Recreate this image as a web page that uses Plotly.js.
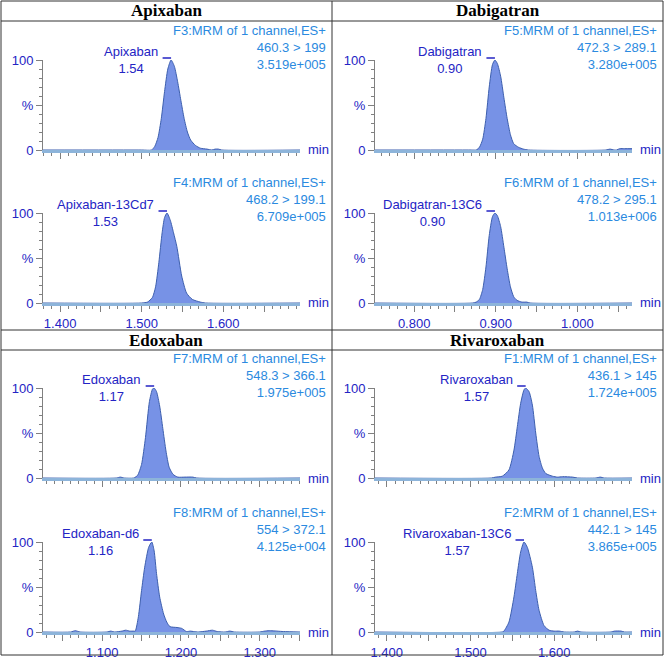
<!DOCTYPE html>
<html>
<head>
<meta charset="utf-8">
<script src="https://cdn.plot.ly/plotly-3.0.1.min.js"></script>
<style>
  html, body { margin: 0; padding: 0; background: #fff; }
  #chart { width: 665px; height: 659px; }
</style>
</head>
<body>
<div id="chart"></div>
<script>
// Chart data
const HEADERS = ['Apixaban', 'Dabigatran', 'Edoxaban', 'Rivaroxaban'];

const PEAK_NAMES = ['Apixaban', 'Apixaban-13Cd7', 'Dabigatran', 'Dabigatran-13C6',
                    'Edoxaban', 'Edoxaban-d6', 'Rivaroxaban', 'Rivaroxaban-13C6'];
const PEAK_RT = ['1.54', '1.53', '0.90', '0.90', '1.17', '1.16', '1.57', '1.57'];
const FUNCTIONS = ['F3:MRM of 1 channel,ES+', 'F4:MRM of 1 channel,ES+',
                   'F5:MRM of 1 channel,ES+', 'F6:MRM of 1 channel,ES+',
                   'F7:MRM of 1 channel,ES+', 'F8:MRM of 1 channel,ES+',
                   'F1:MRM of 1 channel,ES+', 'F2:MRM of 1 channel,ES+'];
const TRANSITIONS = ['460.3 > 199', '468.2 > 199.1', '472.3 > 289.1', '478.2 > 295.1',
                     '548.3 > 366.1', '554 > 372.1', '436.1 > 145', '442.1 > 145'];
const INTENSITIES = ['3.519e+005', '6.709e+005', '3.280e+005', '1.013e+006',
                     '1.975e+005', '4.125e+004', '1.724e+005', '3.865e+005'];

// x ranges (min) per compound
const X_RANGES = [[1.379, 1.694], [0.752, 1.067], [1.025, 1.351], [1.386, 1.693]];
const X_TICKS = [
    [1.40, 1.45, 1.50, 1.55, 1.60, 1.65],
    [0.80, 0.85, 0.90, 0.95, 1.00, 1.05],
    [1.05, 1.10, 1.15, 1.20, 1.25, 1.30, 1.35],
    [1.40, 1.45, 1.50, 1.55, 1.60, 1.65]
];
const X_TICK_TEXT = [
    ['1.400', '', '1.500', '', '1.600', ''],
    ['0.800', '', '0.900', '', '1.000', ''],
    ['', '1.100', '', '1.200', '', '1.300', ''],
    ['1.400', '', '1.500', '', '1.600', '']
];
const Y_TICKS = [0, 50, 100];
const Y_TICK_TEXT = ['0', '%', '100'];

// Chromatograms: retention time (min) and relative intensity (%)
const apixT = [1.379, 1.500, 1.512, 1.516, 1.520, 1.524, 1.528, 1.532, 1.536, 1.540, 1.544, 1.548,
               1.552, 1.556, 1.560, 1.566, 1.572, 1.580, 1.586, 1.590, 1.594, 1.598, 1.694];
const apixI = [0, 0, 0, 4, 14, 35, 65, 90, 100, 93, 76, 55, 35, 20, 11, 5, 2, 1, 0, 1, 1, 0, 0];

const apixIsT = [1.379, 1.500, 1.507, 1.513, 1.517, 1.521, 1.525, 1.528, 1.531, 1.535, 1.539, 1.543,
                 1.549, 1.555, 1.562, 1.572, 1.578, 1.694];
const apixIsI = [0, 0, 1, 6, 18, 45, 78, 95, 100, 92, 78, 63, 30, 11, 4, 1, 0, 0];

const dabiT = [0.752, 0.870, 0.876, 0.880, 0.884, 0.888, 0.892, 0.896, 0.899, 0.902, 0.906, 0.910,
               0.914, 0.918, 0.922, 0.928, 0.934, 0.940, 1.035, 1.040, 1.045, 1.048, 1.052, 1.058, 1.067];
const dabiI = [0, 0, 0, 3, 12, 35, 70, 95, 100, 96, 82, 58, 35, 17, 7, 3, 1, 0, 0, 1, 0, 0, 1.5, 1.5, 1.5];

const dabiIsT = [0.752, 0.872, 0.876, 0.880, 0.884, 0.888, 0.892, 0.896, 0.899, 0.902, 0.906, 0.910,
                 0.914, 0.918, 0.922, 0.926, 0.932, 0.938, 0.942, 1.067];
const dabiIsI = [0, 0, 1, 4, 15, 40, 75, 96, 100, 97, 85, 62, 38, 18, 7, 3, 1, 1, 0, 0];

const edoxT = [1.025, 1.118, 1.123, 1.128, 1.140, 1.145, 1.150, 1.155, 1.160, 1.164, 1.166, 1.169,
               1.173, 1.177, 1.181, 1.185, 1.190, 1.196, 1.205, 1.215, 1.220, 1.351];
const edoxI = [0, 0, 1, 0, 0, 3, 15, 45, 85, 99, 100, 96, 80, 55, 30, 12, 4, 1, 1, 1, 0, 0];

const edoxIsT = [1.025, 1.060, 1.066, 1.072, 1.106, 1.111, 1.116, 1.125, 1.130, 1.135,
                 1.140, 1.142, 1.146, 1.150, 1.154, 1.159, 1.163, 1.166, 1.169, 1.173,
                 1.178, 1.182, 1.186, 1.195, 1.201, 1.207, 1.212, 1.216, 1.222, 1.232,
                 1.240, 1.246, 1.256, 1.262, 1.268, 1.300, 1.306, 1.312, 1.330, 1.351];
const edoxIsI = [0, 0, 1.5, 0, 0, 1, 0, 1, 2, 1,
                 1, 1, 17, 46, 72, 94, 100, 90, 65, 39,
                 20, 11, 6, 5, 4, 0.5, 1, 0.5, 0, 1,
                 2, 0.5, 0, 1, 0, 0, 1, 1.5, 0.5, 0];

const rivaT = [1.386, 1.525, 1.530, 1.538, 1.546, 1.552, 1.556, 1.560, 1.564, 1.566, 1.570, 1.574,
               1.578, 1.582, 1.586, 1.590, 1.598, 1.604, 1.610, 1.622, 1.628, 1.650, 1.655, 1.660, 1.693];
const rivaI = [0, 0, 1, 2, 9, 31, 57, 83, 98, 100, 96, 81, 50, 24, 11, 5, 2, 1, 1.5, 1, 0, 0, 1, 0, 0];

const rivaIsT = [1.386, 1.538, 1.540, 1.546, 1.552, 1.556, 1.560, 1.564, 1.568, 1.574, 1.578, 1.582,
                 1.588, 1.594, 1.600, 1.606, 1.612, 1.624, 1.628, 1.632, 1.668, 1.672, 1.680, 1.684, 1.693];
const rivaIsI = [0, 0, 1, 11, 39, 65, 89, 100, 94, 72, 46, 24, 7, 2, 1, 1, 0, 0, 1, 0, 0, 1, 1, 0, 0];

const SERIES_T = [apixT, apixIsT, dabiT, dabiIsT, edoxT, edoxIsT, rivaT, rivaIsT];
const SERIES_I = [apixI, apixIsI, dabiI, dabiIsI, edoxI, edoxIsI, rivaI, rivaIsI];

// Page geometry (pixels)
const W = 665, H = 659;
const QUAD_LEFT = [0, 332];
const QUAD_RIGHT = [332, 663];
// plot area per subplot: [left, right, top(100%), bottom(0%)]
const PLOT_BOX = [
    [43, 300, 60, 150], [43, 300, 213, 303],
    [375, 632, 60, 150], [375, 632, 213, 303],
    [43, 300, 388, 478], [43, 300, 542, 632],
    [375, 632, 388, 478], [375, 632, 542, 632]
];

const DARK_BLUE = '#2424c4';
const LIGHT_BLUE = '#2b8ae0';
const FONT = 'Arial, "Liberation Sans", sans-serif';
const SERIF = '"Times New Roman", "Liberation Serif", serif';

const px = v => v / W;
const py = v => 1 - v / H;

const traces = [];
const annotations = [];
const shapes = [];
const layout = {
    width: W,
    height: H,
    margin: { l: 0, r: 0, t: 0, b: 0 },
    paper_bgcolor: '#ffffff',
    plot_bgcolor: 'rgba(0,0,0,0)',
    showlegend: false,
    font: { family: FONT, size: 13, color: DARK_BLUE }
};

for (let i = 0; i < 8; i++) {
    const c = Math.floor(i / 2);     // compound index
    const box = PLOT_BOX[i];
    const n = i + 1;
    const xName = 'x' + (n === 1 ? '' : n);
    const yName = 'y' + (n === 1 ? '' : n);
    const xKey = 'xaxis' + (n === 1 ? '' : n);
    const yKey = 'yaxis' + (n === 1 ? '' : n);
    const quad = c % 2;

    traces.push({
        x: SERIES_T[i],
        y: SERIES_I[i],
        xaxis: xName,
        yaxis: yName,
        type: 'scatter',
        mode: 'lines',
        fill: 'tozeroy',
        fillcolor: '#7792e6',
        line: { color: '#3d5fae', width: 1, shape: 'spline', smoothing: 0.6 },
        hoverinfo: 'skip'
    });

    layout[xKey] = {
        domain: [px(box[0]), px(box[1])],
        range: X_RANGES[c],
        anchor: yName,
        tickmode: 'array',
        tickvals: X_TICKS[c],
        ticktext: X_TICK_TEXT[c],
        ticks: 'outside',
        ticklen: 6,
        tickcolor: '#808080',
        showticklabels: i % 2 === 1,
        tickfont: { family: FONT, size: 13, color: DARK_BLUE },
        showline: true,
        linecolor: '#8db4da',
        linewidth: 3,
        showgrid: false,
        zeroline: false,
        minor: { tickmode: 'linear', tick0: 0, dtick: 0.01, ticks: 'outside', ticklen: 3, tickcolor: '#808080' }
    };

    layout[yKey] = {
        domain: [py(box[3]), py(box[2])],
        range: [0, 100],
        anchor: xName,
        tickmode: 'array',
        tickvals: Y_TICKS,
        ticktext: Y_TICK_TEXT,
        ticks: 'outside',
        ticklen: 6,
        tickcolor: '#808080',
        tickfont: { family: FONT, size: 13, color: DARK_BLUE },
        showline: true,
        linecolor: '#808080',
        linewidth: 1,
        showgrid: false,
        zeroline: false,
        minor: { tickmode: 'linear', tick0: 0, dtick: 10, ticks: 'outside', ticklen: 3, tickcolor: '#808080' }
    };

    // peak apex from the data
    const vals = SERIES_I[i];
    const apex = SERIES_T[i][vals.indexOf(Math.max(...vals))];

    annotations.push({
        xref: xName, yref: yName,
        x: apex, y: 100,
        xanchor: 'right', yanchor: 'middle',
        xshift: -11,
        align: 'center',
        showarrow: false,
        text: PEAK_NAMES[i] + '<br>' + PEAK_RT[i],
        font: { family: FONT, size: 13, color: DARK_BLUE }
    });

    // short apex marker to the left of the peak top
    annotations.push({
        xref: xName, yref: yName,
        x: apex, y: 100,
        ax: -10, ay: 0,
        yshift: 2,
        text: ' ',
        font: { size: 1 },
        showarrow: true,
        arrowhead: 0,
        arrowwidth: 1.5,
        arrowcolor: DARK_BLUE
    });

    // channel info block
    annotations.push({
        xref: 'paper', yref: yName + ' domain',
        x: px(QUAD_RIGHT[quad] - 4), y: 1,
        xanchor: 'right', yanchor: 'middle',
        yshift: 13,
        align: 'right',
        showarrow: false,
        text: FUNCTIONS[i] + '<br>' + TRANSITIONS[i] + '<br>' + INTENSITIES[i],
        font: { family: FONT, size: 13, color: LIGHT_BLUE }
    });

    annotations.push({
        xref: xName + ' domain', yref: yName + ' domain',
        x: 1, y: 0,
        xanchor: 'left', yanchor: 'middle',
        xshift: 6,
        showarrow: false,
        text: 'min',
        font: { family: FONT, size: 13, color: DARK_BLUE }
    });
}

// quadrant headers
const HEADER_ROWS = [[1, 21], [330, 350]];
for (let c = 0; c < 4; c++) {
    const quad = c % 2;
    const row = HEADER_ROWS[Math.floor(c / 2)];
    annotations.push({
        xref: 'paper', yref: 'paper',
        x: px((QUAD_LEFT[quad] + QUAD_RIGHT[quad]) / 2),
        y: py((row[0] + row[1]) / 2),
        xanchor: 'center', yanchor: 'middle',
        showarrow: false,
        text: '<b>' + HEADERS[c] + '</b>',
        font: { family: SERIF, size: 17, color: '#000000' }
    });
}

// table frame
const frame = { color: '#333333', width: 1 };
const hLines = [1, 21, 330, 350, 655];
hLines.forEach(y => shapes.push({
    type: 'line', xref: 'paper', yref: 'paper',
    x0: px(1), x1: px(663), y0: py(y), y1: py(y), line: frame
}));
[1, 332, 663].forEach(x => shapes.push({
    type: 'line', xref: 'paper', yref: 'paper',
    x0: px(x), x1: px(x), y0: py(1), y1: py(655), line: frame
}));

layout.annotations = annotations;
layout.shapes = shapes;

Plotly.newPlot('chart', traces, layout, { staticPlot: true });
</script>
</body>
</html>
